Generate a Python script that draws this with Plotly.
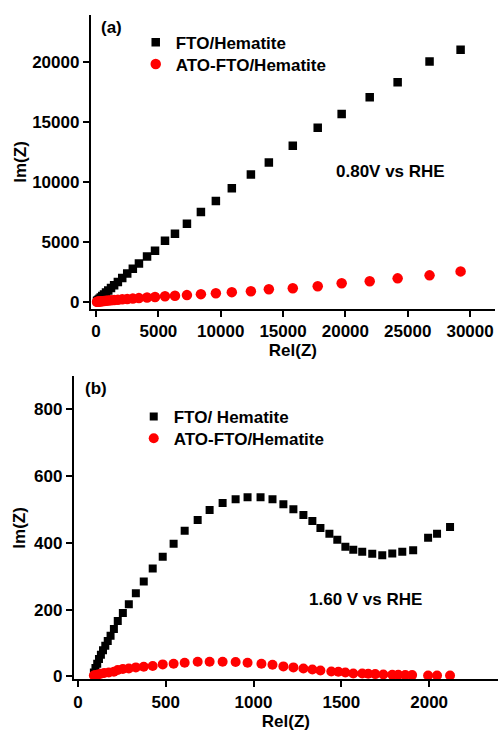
import plotly.graph_objects as go

W, H = 498, 732

# ---------------- Panel (a) data: 0.80 V vs RHE ----------------
a_fto_x = [29240, 26750, 24190, 21950, 19700, 17780, 15780, 13860, 12420, 10890, 9610, 8410,
           7290, 6330, 5530, 4730, 4090, 3440, 2950, 2500, 2100, 1750, 1450, 1200, 980, 800,
           640, 500, 380, 280, 200, 130, 80]
a_fto_y = [21060, 20070, 18340, 17100, 15690, 14540, 13050, 11650, 10650, 9500, 8430, 7520,
           6530, 5700, 5120, 4290, 3800, 3220, 2780, 2380, 2000, 1680, 1400, 1170, 960, 790,
           640, 500, 380, 280, 200, 130, 80]
a_ato_x = a_fto_x
a_ato_y = [2560, 2230, 1980, 1730, 1570, 1320, 1160, 1070, 910, 830, 740, 660,
           580, 530, 480, 420, 380, 330, 290, 255, 225, 195, 170, 145, 125, 108,
           92, 78, 65, 52, 42, 32, 24]

# ---------------- Panel (b) data: 1.60 V vs RHE ----------------
b_fto_x = [91, 100, 110, 120, 131, 143, 156, 170, 186, 205, 227, 256, 290, 330, 375, 426, 483,
           545, 608, 682, 750, 824, 898, 966, 1040, 1108, 1170, 1227, 1284, 1335, 1381, 1432,
           1477, 1523, 1568, 1619, 1676, 1733, 1790, 1847, 1909, 1994, 2045, 2119]
b_fto_y = [12, 25, 38, 52, 65, 78, 92, 106, 122, 142, 166, 190, 216, 249, 284, 323, 358,
           397, 436, 468, 498, 519, 530, 536, 536, 530, 515, 500, 483, 465, 444, 427,
           409, 388, 379, 373, 367, 363, 368, 373, 378, 415, 427, 447]
b_ato_x = [91, 100, 115, 130, 150, 176, 205, 227, 256, 290, 330, 375, 426, 483, 545, 608, 682,
           750, 824, 898, 966, 1045, 1108, 1170, 1227, 1284, 1335, 1381, 1443, 1483, 1523,
           1568, 1619, 1653, 1693, 1739, 1790, 1824, 1864, 1903, 1994, 2045, 2119]
b_ato_y = [3, 4, 6, 8, 10, 12, 14, 19, 22, 24, 27, 29, 31, 36, 38, 41, 44,
           44, 44, 43, 41, 38, 35, 30, 27, 24, 21, 18, 15, 14, 12,
           9, 9, 8, 7, 6, 5, 5, 4, 4, 3, 3, 3]

a_xticks = [0, 5000, 10000, 15000, 20000, 25000, 30000]
a_yticks = [0, 5000, 10000, 15000, 20000]
b_xticks = [0, 500, 1000, 1500, 2000]
b_yticks = [0, 200, 400, 600, 800]

BLACK = "#000000"
RED = "#ff0000"
FONT = dict(family="Liberation Sans, Arial, sans-serif", size=17, color="black", weight="bold")


def b(t):
    return "<b>" + t + "</b>"


fig = go.Figure()
fig.add_trace(go.Scatter(x=a_fto_x, y=a_fto_y, mode="markers", name=b("FTO/Hematite"),
                         marker=dict(symbol="square", size=8.5, color=BLACK),
                         xaxis="x", yaxis="y", legend="legend", showlegend=True))
fig.add_trace(go.Scatter(x=a_ato_x, y=a_ato_y, mode="markers", name=b("ATO-FTO/Hematite"),
                         marker=dict(symbol="circle", size=10.5, color=RED),
                         xaxis="x", yaxis="y", legend="legend3", showlegend=True))
fig.add_trace(go.Scatter(x=b_fto_x, y=b_fto_y, mode="markers", name=b("FTO/ Hematite"),
                         marker=dict(symbol="square", size=8, color=BLACK),
                         xaxis="x2", yaxis="y2", legend="legend2", showlegend=True))
fig.add_trace(go.Scatter(x=b_ato_x, y=b_ato_y, mode="markers", name=b("ATO-FTO/Hematite"),
                         marker=dict(symbol="circle", size=10, color=RED),
                         xaxis="x2", yaxis="y2", legend="legend4", showlegend=True))


def px_x(p):
    return p / W


def px_y(p):
    return 1 - p / H


axis_common = dict(showline=True, linewidth=2, linecolor="black", ticks="outside",
                   ticklen=6, tickwidth=2, tickcolor="black", showgrid=False,
                   zeroline=False, tickfont=FONT, title_font=FONT)


def leg(xp, yp):
    return dict(x=px_x(xp), y=px_y(yp), xanchor="left", yanchor="middle",
                bgcolor="rgba(0,0,0,0)", font=FONT, borderwidth=0, visible=True)


def ann(t, xp, yp):
    return dict(text=b(t), x=px_x(xp), y=px_y(yp), xref="paper", yref="paper",
                xanchor="center", yanchor="middle", showarrow=False, font=FONT)


fig.update_layout(
    width=W, height=H,
    margin=dict(l=0, r=0, t=0, b=0),
    paper_bgcolor="white", plot_bgcolor="white",
    font=FONT,
    showlegend=True,
    xaxis=dict(domain=[px_x(90), px_x(495)], anchor="y", range=[-420, 32000],
               tickvals=a_xticks, ticktext=[b(str(v)) for v in a_xticks],
               title=dict(text=b("Rel(Z)"), standoff=3), **axis_common),
    yaxis=dict(domain=[px_y(312), px_y(15)], anchor="x", range=[-580, 23970],
               tickvals=a_yticks, ticktext=[b(str(v)) for v in a_yticks],
               title=dict(text=b("Im(Z)"), standoff=1), **axis_common),
    xaxis2=dict(domain=[px_x(73), 1.0], anchor="y2", range=[-23, 2392],
                tickvals=b_xticks, ticktext=[b(str(v)) for v in b_xticks],
                title=dict(text=b("Rel(Z)"), standoff=3), **axis_common),
    yaxis2=dict(domain=[px_y(686), px_y(380)], anchor="x2", range=[-9, 898],
                tickvals=b_yticks, ticktext=[b(str(v)) for v in b_yticks],
                title=dict(text=b("Im(Z)"), standoff=4), **axis_common),
    legend=leg(135, 43),
    legend3=leg(135, 65),
    legend2=leg(133, 421),
    legend4=leg(133, 443),
    annotations=[
        ann("(a)", 111, 28),
        ann("(b)", 95, 392),
        ann("0.80V vs RHE", 390, 173),
        ann("1.60 V vs RHE", 365, 605),
    ],
)

fig.write_html("out.html")
